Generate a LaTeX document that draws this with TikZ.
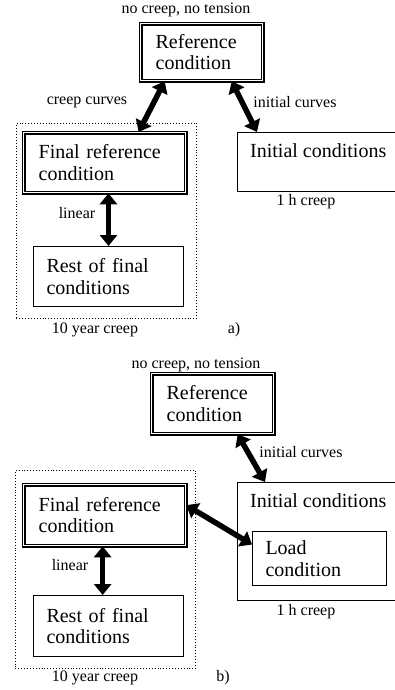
\documentclass[tikz,border=0pt]{standalone}
\usepackage{fontspec}
\setmainfont{Liberation Serif}
\usetikzlibrary{arrows.meta,positioning}

\begin{document}
\begin{tikzpicture}[
    x=1pt, y=-1pt,
    box_node/.style={rectangle, draw=black, line width=1pt, align=left, inner xsep=13pt, anchor=north west, font=\fontsize{20}{21.5}\selectfont},
    ref_node/.style={box_node, double, double distance=1.4pt, line width=1.3pt, inner xsep=15pt},
    group_node/.style={rectangle, draw=black, dotted, line width=0.9pt, anchor=north west, minimum width=180pt},
    box_text/.style={inner sep=0pt, anchor=base west, font=\fontsize{20}{21.5}\selectfont},
    note/.style={inner sep=1pt, font=\fontsize{16}{17}\selectfont},
    arrow/.style={line width=5.5pt, {Triangle[length=11pt,width=17pt]}-{Triangle[length=11pt,width=17pt]}}
]
\useasboundingbox (0,0) rectangle (395,690);

% a) boxes
\node[ref_node, text width=92pt, minimum width=120pt, minimum height=57pt] (ref_a) at (140,23) {Reference\\condition};
\node[group_node, minimum height=195pt] (group_a) at (16,123) {};
\node[ref_node, text width=132pt, minimum width=162pt, minimum height=60pt] (final_a) at (23,132) {Final reference\\condition};
\node[box_node, text width=124pt, minimum width=150pt, minimum height=60pt] (rest_a) at (33,246) {Rest of final\\conditions};
\node[box_node, minimum width=165pt, minimum height=59pt] (init_a) at (237,132) {};
\node[box_text] (init_a_text) at ([xshift=13pt,yshift=-25pt]init_a.north west) {Initial conditions};

% a) labels
\node[note] (top_a) at (186,10) {no creep, no tension};
\node[note] (creep_a) at (87,102) {creep curves};
\node[note] (initc_a) at (295,102) {initial curves};
\node[note] (linear_a) at (77,213) {linear};
\node[note] (year_a) at (95,330) {10 year creep};
\node[note] (tag_a) at (234,330) {a)};
\node[note] (hour_a) at (306,202) {1 h creep};

% a) arrows
\draw[arrow] ([xshift=-37pt]ref_a.south) -- ([xshift=34pt]final_a.north);
\draw[arrow] ([xshift=30pt]ref_a.south) -- ([xshift=20pt]init_a.north west);
\draw[arrow] (rest_a.north |- final_a.south) -- (rest_a.north);

% b) boxes
\node[ref_node, text width=92pt, minimum width=122pt, minimum height=60pt] (ref_b) at (151,373) {Reference\\condition};
\node[group_node, minimum height=198pt] (group_b) at (15,470) {};
\node[ref_node, text width=132pt, minimum width=162pt, minimum height=61pt] (final_b) at (23,484) {Final reference\\condition};
\node[box_node, text width=124pt, minimum width=150pt, minimum height=61pt] (rest_b) at (33,595) {Rest of final\\conditions};
\node[box_node, minimum width=165pt, minimum height=118pt] (init_b) at (237,482) {};
\node[box_text] (init_b_text) at ([xshift=13pt,yshift=-25pt]init_b.north west) {Initial conditions};
\node[box_node, text width=108pt, minimum width=134pt, minimum height=54pt] (load_b) at (252,531) {Load\\condition};

% b) labels
\node[note] (top_b) at (196,365) {no creep, no tension};
\node[note] (initc_b) at (301,452) {initial curves};
\node[note] (linear_b) at (70,565) {linear};
\node[note] (year_b) at (95,678) {10 year creep};
\node[note] (tag_b) at (223,678) {b)};
\node[note] (hour_b) at (306,612) {1 h creep};

% b) arrows
\draw[arrow] ([xshift=25pt]ref_b.south) -- ([xshift=28pt]init_b.north west);
\draw[arrow] ([yshift=10pt]final_b.east) -- ([yshift=14pt]load_b.west);
\draw[arrow] ([xshift=-2pt]final_b.south) -- ([xshift=-2pt]final_b.south |- rest_b.north);

\end{tikzpicture}
\end{document}
